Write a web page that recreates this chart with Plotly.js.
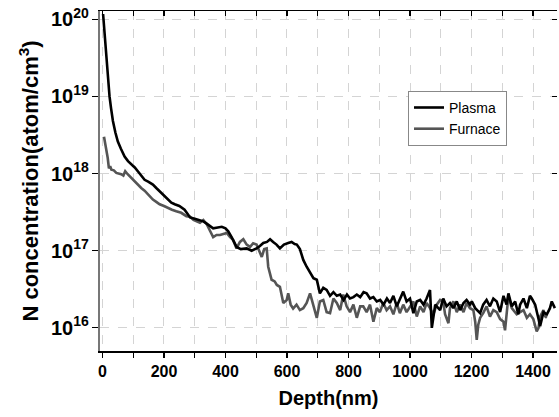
<!DOCTYPE html>
<html>
<head>
<meta charset="utf-8">
<script src="https://cdn.plot.ly/plotly-3.0.1.min.js"></script>
<style>
html,body{margin:0;padding:0;background:#fff;}
#chart{width:559px;height:417px;}
</style>
</head>
<body>
<div id="chart"></div>
<script>
// ---- data ----
const seriesNames = ["Plasma", "Furnace"];

const plasmaDepth = [2,5,9,13,16,20,23,28,34,42,50,60,72,83,94,105,115,126,137,150,164,175,186,200,213,224,235,250,267,285,300,317,328,339,350,360,375,388,400,409,420,436,450,469,485,501,512,523,535,545,555,566,577,590,604,615,625,632,642,653,664,675,686,697,707,718,729,740,751,762,773,784,795,805,816,827,838,849,859,870,881,892,903,914,925,935,946,957,968,978,989,1000,1011,1022,1033,1044,1054,1065,1071,1082,1092,1098,1108,1119,1130,1141,1152,1163,1174,1184,1195,1201,1212,1228,1238,1249,1260,1271,1282,1293,1304,1314,1320,1331,1342,1352,1358,1369,1380,1390,1396,1407,1418,1423,1434,1445,1455,1461,1471];
const plasmaN = [1.17e20,8.0e19,5.1e19,3.0e19,1.9e19,1.35e19,1.0e19,7.0e18,4.8e18,3.4e18,2.6e18,2.1e18,1.66e18,1.45e18,1.32e18,1.2e18,1.07e18,9.5e17,8.3e17,7.8e17,7.2e17,6.5e17,5.9e17,5.2e17,4.6e17,4.2e17,4.0e17,3.8e17,3.4e17,2.7e17,2.6e17,2.5e17,2.4e17,2.24e17,2.1e17,1.95e17,2.0e17,2.04e17,1.95e17,1.78e17,1.5e17,1.12e17,1.05e17,1.07e17,1.0e17,1.07e17,1.15e17,1.26e17,1.3e17,1.41e17,1.3e17,1.2e17,1.07e17,1.2e17,1.26e17,1.3e17,1.22e17,1.2e17,1.05e17,7.6e16,6.2e16,5.1e16,4.4e16,4.2e16,2.8e16,3.3e16,3.1e16,2.6e16,2.9e16,2.6e16,2.7e16,2.3e16,2.7e16,2.4e16,2.5e16,2.7e16,2.5e16,2.9e16,2.8e16,2.4e16,2.5e16,2.2e16,2.3e16,2.0e16,2.4e16,2.1e16,2.6e16,1.9e16,2.4e16,2.95e16,2.2e16,2.4e16,1.55e16,2.2e16,2.3e16,2.0e16,2.4e16,3.1e16,1.0e16,2.0e16,1.8e16,1.7e16,2.4e16,1.9e16,2.1e16,1.8e16,2.2e16,1.7e16,2.1e16,2.3e16,2.0e16,2.2e16,1.8e16,1.55e16,2.0e16,2.3e16,1.9e16,2.4e16,2.2e16,1.6e16,2.6e16,2.0e16,2.8e16,1.9e16,2.2e16,1.5e16,2.0e16,2.4e16,1.8e16,2.6e16,2.4e16,2.0e16,1.3e16,1.05e16,1.6e16,1.5e16,1.8e16,2.2e16,1.8e16];

const furnaceDepth = [5,8,12,17,21,25,29,37,45,53,61,68,74,82,94,102,110,118,126,137,148,156,164,175,186,200,213,226,240,256,273,285,296,306,317,328,339,350,360,371,382,393,404,415,425,436,447,458,469,480,490,501,512,518,526,534,539,550,560,567,577,588,599,604,612,620,631,642,653,664,675,686,697,707,718,729,740,751,762,773,783,794,805,816,827,838,848,859,870,881,892,902,913,924,935,946,957,967,978,989,1000,1011,1022,1033,1044,1054,1065,1076,1087,1098,1108,1114,1125,1130,1141,1152,1163,1174,1184,1195,1206,1212,1217,1222,1228,1238,1249,1260,1271,1282,1293,1304,1309,1315,1320,1331,1342,1347,1358,1369,1380,1390,1401,1412,1418,1423,1434,1440,1445];
const furnaceN = [3.0e18,2.6e18,2.1e18,1.6e18,1.17e18,1.25e18,1.12e18,1.1e18,1.02e18,1.0e18,9.8e17,9.4e17,1.07e18,9.8e17,8.7e17,8.0e17,7.6e17,7.0e17,6.5e17,6.0e17,5.4e17,5.1e17,4.6e17,4.3e17,4.0e17,3.8e17,3.55e17,3.4e17,3.25e17,3.1e17,2.8e17,2.75e17,2.5e17,2.4e17,2.3e17,2.5e17,2.2e17,1.8e17,1.5e17,1.6e17,1.6e17,1.65e17,1.7e17,1.5e17,1.38e17,1.07e17,1.3e17,1.41e17,1.2e17,1.12e17,1.25e17,1.2e17,9.5e16,8.3e16,1.05e17,1.07e17,6.2e16,4.2e16,4.0e16,3.6e16,3.4e16,2.1e16,2.3e16,2.8e16,2.0e16,1.78e16,2.0e16,1.7e16,1.8e16,2.1e16,2.8e16,2.0e16,1.35e16,2.2e16,2.3e16,1.6e16,1.55e16,2.4e16,2.1e16,1.7e16,2.7e16,1.9e16,1.6e16,2.0e16,1.35e16,1.9e16,1.9e16,1.6e16,2.0e16,1.2e16,1.8e16,1.6e16,2.1e16,1.7e16,1.9e16,1.5e16,2.1e16,1.55e16,2.0e16,1.6e16,1.9e16,2.2e16,1.4e16,1.9e16,1.6e16,2.1e16,1.8e16,1.5e16,2.0e16,2.3e16,2.2e16,1.5e16,1.15e16,1.8e16,2.2e16,1.6e16,2.0e16,1.6e16,2.1e16,1.8e16,1.7e16,1.2e16,7.0e15,1.1e16,1.35e16,1.55e16,1.9e16,1.4e16,1.7e16,1.6e16,1.3e16,1.2e16,9.3e15,1.8e16,2.6e16,1.8e16,1.6e16,1.5e16,1.6e16,1.7e16,1.35e16,1.5e16,1.3e16,9.0e15,1.0e16,1.4e16,1.7e16,1.4e16,1.35e16];

const xTickVals = [0,200,400,600,800,1000,1200,1400];
const xMinorVals = [100,300,500,700,900,1100,1300];
const xTitle = "Depth(nm)";
const yTitle = "N concentration(atom/cm<sup>3</sup>)";

// ---- chart ----
const font = "Arial, 'Liberation Sans', sans-serif";
const gridCol = "#d4d4d4";
const traces = [
  {x: furnaceDepth, y: furnaceN, name: seriesNames[1], type: "scatter", mode: "lines",
   line: {color: "#555555", width: 2.6}, legendrank: 2},
  {x: plasmaDepth, y: plasmaN, name: seriesNames[0], type: "scatter", mode: "lines",
   line: {color: "#000000", width: 2.6}, legendrank: 1}
];

const layout = {
  width: 559, height: 417,
  margin: {l: 100, r: 2, t: 11, b: 66},
  paper_bgcolor: "#fff", plot_bgcolor: "#fff",
  font: {family: font, color: "#000"},
  showlegend: true,
  legend: {x: 0.674, y: 0.765, xanchor: "left", yanchor: "top",
           bgcolor: "#fff", bordercolor: "#888", borderwidth: 1,
           font: {family: font, size: 14, color: "#000"},
           traceorder: "normal", tracegroupgap: 0},
  xaxis: {
    range: [-8, 1478], tickvals: xTickVals, ticks: "outside", ticklen: 5,
    tickcolor: "#000", tickwidth: 1.2, ticklabelstandoff: 0,
    minor: {tickmode: "array", tickvals: xMinorVals, ticks: "outside", ticklen: 5, tickcolor: "#000",
            showgrid: true, gridcolor: gridCol, griddash: "dash", gridwidth: 1},
    showgrid: true, gridcolor: gridCol, griddash: "dash", gridwidth: 1,
    showline: true, linecolor: "#000", linewidth: 1.5, zeroline: false,
    tickfont: {family: font, size: 16, weight: "bold", color: "#000"},
    title: {text: xTitle, font: {family: font, size: 20, weight: "bold", color: "#000"}, standoff: 12}
  },
  xaxis2: {
    overlaying: "x", side: "top", range: [-8, 1478], tickvals: xTickVals,
    ticks: "inside", ticklen: 5, tickcolor: "#000", tickwidth: 1.2,
    minor: {tickmode: "array", tickvals: xMinorVals, ticks: "inside", ticklen: 5, tickcolor: "#000"},
    showticklabels: false, showgrid: false, showline: true, linecolor: "#000", linewidth: 1.2, zeroline: false
  },
  yaxis: {
    type: "log", range: [15.70, 20.107], dtick: 1, exponentformat: "power",
    ticks: "outside", ticklen: 6, tickcolor: "#000", tickwidth: 1.2,
    showgrid: true, gridcolor: gridCol, griddash: "dash", gridwidth: 1,
    showline: true, linecolor: "#777", linewidth: 2, zeroline: false,
    tickfont: {family: font, size: 16, weight: "bold", color: "#000"},
    title: {text: yTitle, font: {family: font, size: 22, weight: "bold", color: "#000"}, standoff: 6}
  },
  yaxis2: {
    overlaying: "y", side: "right", type: "log", range: [15.70, 20.107], dtick: 1,
    ticks: "inside", ticklen: 5, tickcolor: "#000", tickwidth: 1.2,
    showticklabels: false, showgrid: false, showline: false, zeroline: false
  }
};

// invisible trace to activate the mirrored top/right axes
traces.push({x: [700], y: [1e17], xaxis: "x2", yaxis: "y2", type: "scatter", mode: "markers",
             marker: {opacity: 0}, showlegend: false, hoverinfo: "skip"});

Plotly.newPlot("chart", traces, layout, {staticPlot: true, displayModeBar: false});
</script>
</body>
</html>
